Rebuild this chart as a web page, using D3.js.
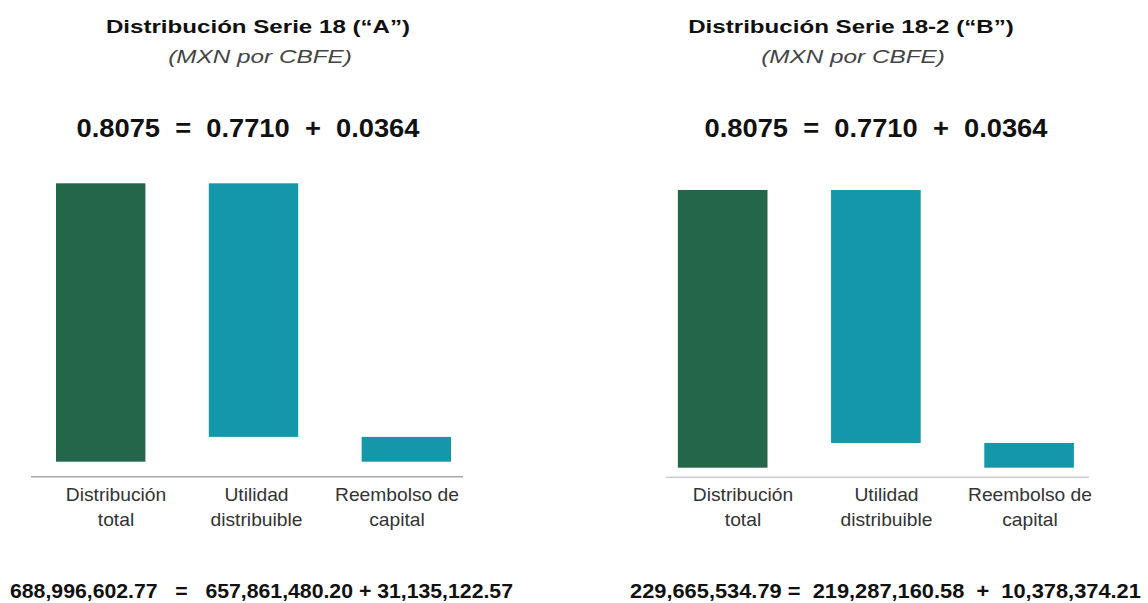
<!DOCTYPE html>
<html>
<head>
<meta charset="utf-8">
<script src="https://cdn.jsdelivr.net/npm/d3@7"></script>
<style>
  html, body { margin: 0; padding: 0; background: #fff; }
  svg { display: block; font-family: "Liberation Sans", Arial, sans-serif; }
</style>
</head>
<body>
<div id="chart"></div>
<script>
// --- DATA ---
const categories = [["Distribución", "total"], ["Utilidad", "distribuible"], ["Reembolso de", "capital"]];
const seriesTitles = ["Distribución Serie 18 (“A”)", "Distribución Serie 18-2 (“B”)"];
const subtitle = "(MXN por CBFE)";
// MXN per CBFE: total, utilidad distribuible, reembolso de capital
const perCbfeA = [0.8075, 0.7710, 0.0364];
const perCbfeB = [0.8075, 0.7710, 0.0364];
// MXN totals
const mxnA = [688996602.77, 657861480.20, 31135122.57];
const mxnB = [229665534.79, 219287160.58, 10378374.21];

// --- LAYOUT / STYLE ---
const W = 1148, H = 603;
const colors = { total: "#236649", part: "#1497a9", text: "#111", label: "#333", sub: "#444" };
// the reference draws the bars from a floor a little below zero
const yFloor = -0.039;

const panels = [
  { title: seriesTitles[0], values: perCbfeA, mxn: mxnA, seps: ["   =   ", " + "], mxnStretch: 1.09,
    plot: [31, 463], padOuter: 0.121, align: 0.676, yTop: 183.3, yBottom: 461.7, axisY: 476.7,
    axisColor: "#a8a8a8", labelRange: [116, 397], titleX: 258, subX: 260, eqX: 248, mxnX: 10 },
  { title: seriesTitles[1], values: perCbfeB, mxn: mxnB, seps: [" =  ", "  +  "], mxnStretch: 1.12,
    plot: [666, 1089], padOuter: 0.088, align: 0.44, yTop: 190, yBottom: 467.7, axisY: 477.3,
    axisColor: "#cfcfcf", labelRange: [743, 1030], titleX: 851, subX: 853, eqX: 876, mxnX: 630 }
];

const fmt4 = d3.format(".4f");
const fmtMxn = d3.format(",.2f");

const svg = d3.select("#chart").append("svg")
  .attr("width", W)
  .attr("height", H);

// text in the reference is a little wider than the font, so stretch horizontally
function stretchText(g, x, y, sx, str, anchor) {
  return g.append("text")
    .attr("transform", `translate(${x},${y}) scale(${sx},1)`)
    .attr("text-anchor", anchor || "middle")
    .style("white-space", "pre")
    .text(str);
}

panels.forEach(p => {
  const g = svg.append("g");
  const [total, util, reemb] = p.values;

  const x = d3.scaleBand()
    .domain(d3.range(categories.length))
    .range(p.plot)
    .paddingInner(0.415)
    .paddingOuter(p.padOuter)
    .align(p.align);

  const y = d3.scaleLinear()
    .domain([yFloor, total])
    .range([p.yBottom, p.yTop]);

  // waterfall: total from floor, utilidad hangs from the total, reembolso fills the rest
  const bars = [
    { lo: yFloor, hi: total, color: colors.total },
    { lo: reemb, hi: total, color: colors.part },
    { lo: yFloor, hi: reemb, color: colors.part }
  ];

  g.selectAll("rect.bar")
    .data(bars)
    .join("rect")
    .attr("class", "bar")
    .attr("x", (d, i) => x(i))
    .attr("width", x.bandwidth())
    .attr("y", d => y(d.hi))
    .attr("height", d => y(d.lo) - y(d.hi))
    .attr("fill", d => d.color);

  // baseline
  g.append("line")
    .attr("x1", p.plot[0]).attr("x2", p.plot[1])
    .attr("y1", p.axisY).attr("y2", p.axisY)
    .attr("stroke", p.axisColor)
    .attr("stroke-width", 1.5);

  // category labels
  const lx = d3.scalePoint().domain(d3.range(categories.length)).range(p.labelRange);
  categories.forEach((lines, i) => {
    lines.forEach((ln, j) => {
      stretchText(g, lx(i), 501 + j * 25, 1.1, ln)
        .attr("font-size", 17.5)
        .attr("fill", colors.label);
    });
  });

  // titles
  stretchText(g, p.titleX, 33, 1.27, p.title)
    .attr("font-size", 19)
    .attr("font-weight", "bold")
    .attr("fill", colors.text);
  stretchText(g, p.subX, 63, 1.28, subtitle)
    .attr("font-size", 19)
    .attr("font-style", "italic")
    .attr("fill", colors.sub);

  // per CBFE equation
  stretchText(g, p.eqX, 137, 1.05, `${fmt4(total)}  =  ${fmt4(util)}  +  ${fmt4(reemb)}`)
    .attr("font-size", 26)
    .attr("font-weight", "bold")
    .attr("fill", colors.text);

  // MXN equation
  const mxnStr = fmtMxn(p.mxn[0]) + p.seps[0] + fmtMxn(p.mxn[1]) + p.seps[1] + fmtMxn(p.mxn[2]);
  stretchText(g, p.mxnX, 598, p.mxnStretch, mxnStr, "start")
    .attr("font-size", 19.5)
    .attr("font-weight", "bold")
    .attr("fill", colors.text);
});
</script>
</body>
</html>
